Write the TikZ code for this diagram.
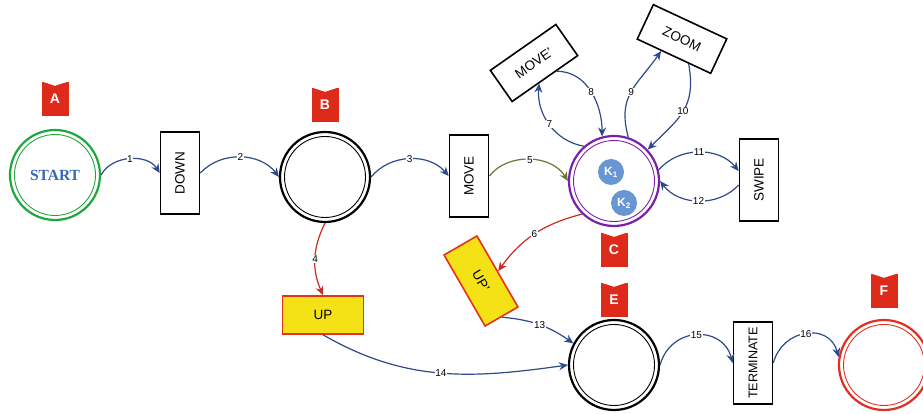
\documentclass[tikz,border=0pt]{standalone}
\usepackage{fontspec}
\setmainfont{Liberation Sans}
\newfontfamily\startfont{Liberation Serif}
\usetikzlibrary{arrows.meta, positioning}
\definecolor{edgeblue}{RGB}{46,74,138}
\definecolor{edgered}{RGB}{200,44,34}
\definecolor{edgeolive}{RGB}{104,120,48}
\definecolor{flagred}{RGB}{222,42,26}
\definecolor{startgreen}{RGB}{30,168,60}
\definecolor{statepurple}{RGB}{122,32,172}
\definecolor{endred}{RGB}{226,46,32}
\definecolor{upyellow}{RGB}{245,226,22}
\definecolor{upborder}{RGB}{228,50,30}
\definecolor{keyblue}{RGB}{104,150,210}
\definecolor{startblue}{RGB}{52,104,182}

\begin{document}
\begin{tikzpicture}[x=1pt, y=1pt,
    state/.style={circle, draw=#1, line width=2.2pt, minimum size=90pt, inner sep=0pt,
      path picture={\draw[#1, line width=0.9pt] (path picture bounding box.center) circle (40.5pt);}},
    action/.style={draw, line width=1.6pt, minimum width=81pt, minimum height=38pt, inner sep=0pt,
      font=\fontsize{13.5}{15}\selectfont},
    vaction/.style={action, minimum width=39pt, minimum height=82pt},
    upaction/.style={action, fill=upyellow, draw=upborder},
    flag/.style={fill=flagred, minimum width=27pt, minimum height=34pt, inner sep=0pt,
      text=white, font=\bfseries\fontsize{14}{16}\selectfont},
    key/.style={circle, fill=keyblue, minimum size=26pt, inner sep=0pt, text=white,
      font=\bfseries\fontsize{12}{12}\selectfont},
    link/.style={-{Stealth[length=9pt, width=8pt]}, line width=1.2pt, draw=#1},
    link/.default=edgeblue,
    num/.style={fill=white, inner sep=0.6pt, font=\fontsize{10}{10}\selectfont}
  ]
  \useasboundingbox (0,0) rectangle (923,414);

  % states
  \node[state=startgreen, text=startblue, font=\startfont\bfseries\fontsize{15.5}{17}\selectfont] (start) at (55,239) {START};
  \node[state=black] (b) at (325,237) {};
  \node[state=statepurple] (c) at (614,233) {};
  \node[key] (k1) at (611,242) {K\textsubscript{1}};
  \node[key] (k2) at (624,211) {K\textsubscript{2}};
  \node[state=black] (e) at (614,49) {};
  \node[state=endred] (f) at (884,49) {};

  % actions
  \node[vaction] (down) at (180,241) {\rotatebox{90}{DOWN}};
  \node[vaction] (move) at (469,238) {\rotatebox{90}{MOVE}};
  \node[action, rotate=35, minimum width=80pt] (movep) at (534,351) {MOVE’};
  \node[action, rotate=-25] (zoom) at (682,375) {ZOOM};
  \node[vaction] (swipe) at (759,234) {\rotatebox{90}{SWIPE}};
  \node[upaction] (up) at (323,99) {UP};
  \node[upaction, rotate=-60, minimum width=82pt] (upp) at (481,133) {UP’};
  \node[vaction, font=\fontsize{12.6}{14}\selectfont] (term) at (753,51) {\rotatebox{90}{TERMINATE}};

  % flags
  \node[flag] (flaga) at (55,315) {A};
  \node[flag] (flagb) at (325,309) {B};
  \node[flag] (flagc) at (614,164) {C};
  \node[flag] (flage) at (614,114) {E};
  \node[flag] (flagf) at (884,123) {F};
  \foreach \f in {flaga,flagb,flagc,flage,flagf}
    \fill[white] ([yshift=0.5pt]\f.north west) -- ([yshift=-4pt]\f.north) -- ([yshift=0.5pt]\f.north east) -- cycle;

  % transitions
  \draw[link] (start.east) to[bend left=60] node[num, midway]{1} (down.west);
  \draw[link] (down.east) to[bend left=50] node[num, midway]{2} (b.west);
  \draw[link] (b.east) to[bend left=50] node[num, midway]{3} (move.west);
  \draw[link=edgered] (b.south) to[bend right=25] node[num, midway]{4} (up.north);
  \draw[link=edgeolive] (move.east) to[bend left=55] node[num, midway]{5} (c.west);
  \draw[link=edgered] (c.226) to[bend right=20] node[num, midway]{6} (upp.north);
  \draw[link] (c.131) to[out=170, in=-95] node[num, midway]{7} (movep.249);
  \draw[link] (movep.305) to[out=0, in=90] node[num, midway]{8} (c.105);
  \draw[link] (c.72) to[out=105, in=235, looseness=1.2] node[num, midway]{9} (zoom.235);
  \draw[link] (zoom.310) to[out=-80, in=45, looseness=1.2] node[num, midway]{10} (c.43);
  \draw[link] (c.14) to[bend left=50] node[num, midway]{11} ([yshift=9pt]swipe.west);
  \draw[link] ([yshift=-5pt]swipe.west) to[bend left=50] node[num, midway]{12} (c.east);
  \draw[link] (upp.east) to[bend left=15] node[num, midway]{13} (e.152);
  \draw[link] (up.south) to[out=-30, in=188] node[num, midway]{14} (e.west);
  \draw[link] (e.east) to[out=75, in=105, looseness=1.4] node[num, midway]{15} (term.west);
  \draw[link] (term.east) to[out=75, in=105, looseness=1.4] node[num, midway]{16} (f.170);
\end{tikzpicture}
\end{document}
